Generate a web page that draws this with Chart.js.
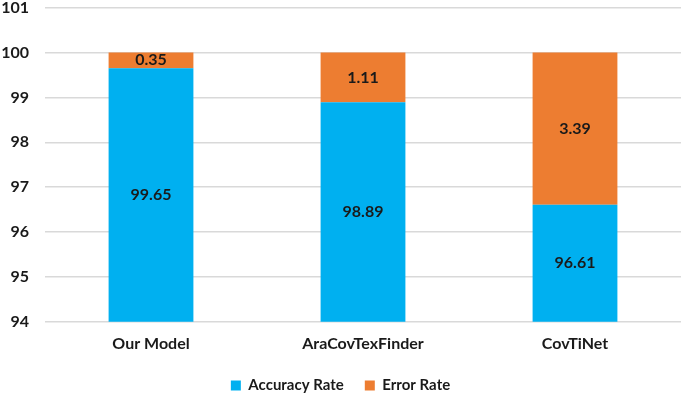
<!DOCTYPE html>
<html><head><meta charset="utf-8">
<script src="https://cdn.jsdelivr.net/npm/chart.js@4"></script>
<style>html,body{margin:0;padding:0;background:#fff}#outer{width:685px;height:397px;overflow:hidden;position:relative}#wrap{position:absolute;left:0;top:-18px;width:685px;height:421px}</style>
</head><body><div id="outer"><div id="wrap"><canvas id="c"></canvas></div></div>
<script>
const categories = ["Our Model", "AraCovTexFinder", "CovTiNet"];
const accuracy = [99.65, 98.89, 96.61];
const errorRate = [0.35, 1.11, 3.39];
const yTicks = [94, 95, 96, 97, 98, 99, 100, 101];

const FONT = "Lato, 'Open Sans', sans-serif";

const labelPlugin = {
  id: 'segLabels',
  afterDatasetsDraw(chart) {
    const ctx = chart.ctx;
    const ys = chart.scales.y;
    ctx.save();
    ctx.font = "bold 16px " + FONT;
    ctx.fillStyle = "#1a1a1a";
    ctx.textAlign = "center";
    ctx.textBaseline = "middle";
    chart.data.datasets.forEach((ds, di) => {
      const meta = chart.getDatasetMeta(di);
      meta.data.forEach((bar, i) => {
        const top = Math.max(Math.min(bar.y, ys.bottom), ys.top);
        const bot = Math.max(Math.min(bar.base, ys.bottom), ys.top);
        ctx.fillText(ds.data[i].toFixed(2), bar.x, (top + bot) / 2);
      });
    });
    ctx.restore();
  }
};

new Chart(document.getElementById('c'), {
  type: 'bar',
  data: {
    labels: categories,
    datasets: [
      { label: 'Accuracy Rate', data: accuracy, backgroundColor: '#00B0F0', barPercentage: 0.4, categoryPercentage: 1.0 },
      { label: 'Error Rate', data: errorRate, backgroundColor: '#ED7D31', barPercentage: 0.4, categoryPercentage: 1.0 }
    ]
  },
  options: {
    responsive: true,
    maintainAspectRatio: false,
    animation: false,
    layout: { padding: { top: 0, right: 4, left: 0, bottom: 0 } },
    plugins: {
      legend: {
        position: 'bottom',
        labels: { boxWidth: 10, boxHeight: 10, padding: 21, color: '#1a1a1a', font: { family: FONT, size: 15, weight: 'bold' } }
      },
      tooltip: { enabled: false }
    },
    scales: {
      x: {
        stacked: true,
        grid: { display: false },
        border: { display: false },
        ticks: { color: '#1a1a1a', font: { family: FONT, size: 16, weight: 'bold' }, padding: 4 }
      },
      y: {
        stacked: true,
        min: 94, max: 101,
        afterBuildTicks(axis) { axis.ticks = yTicks.map(v => ({ value: v })); },
        afterFit(axis) { axis.width = 45; },
        grid: { color: '#d9d9d9', lineWidth: 1.5, drawTicks: false },
        border: { display: false },
        ticks: { color: '#1a1a1a', font: { family: FONT, size: 16, weight: 'bold' }, padding: 16 }
      }
    }
  },
  plugins: [labelPlugin]
});
</script></body></html>
